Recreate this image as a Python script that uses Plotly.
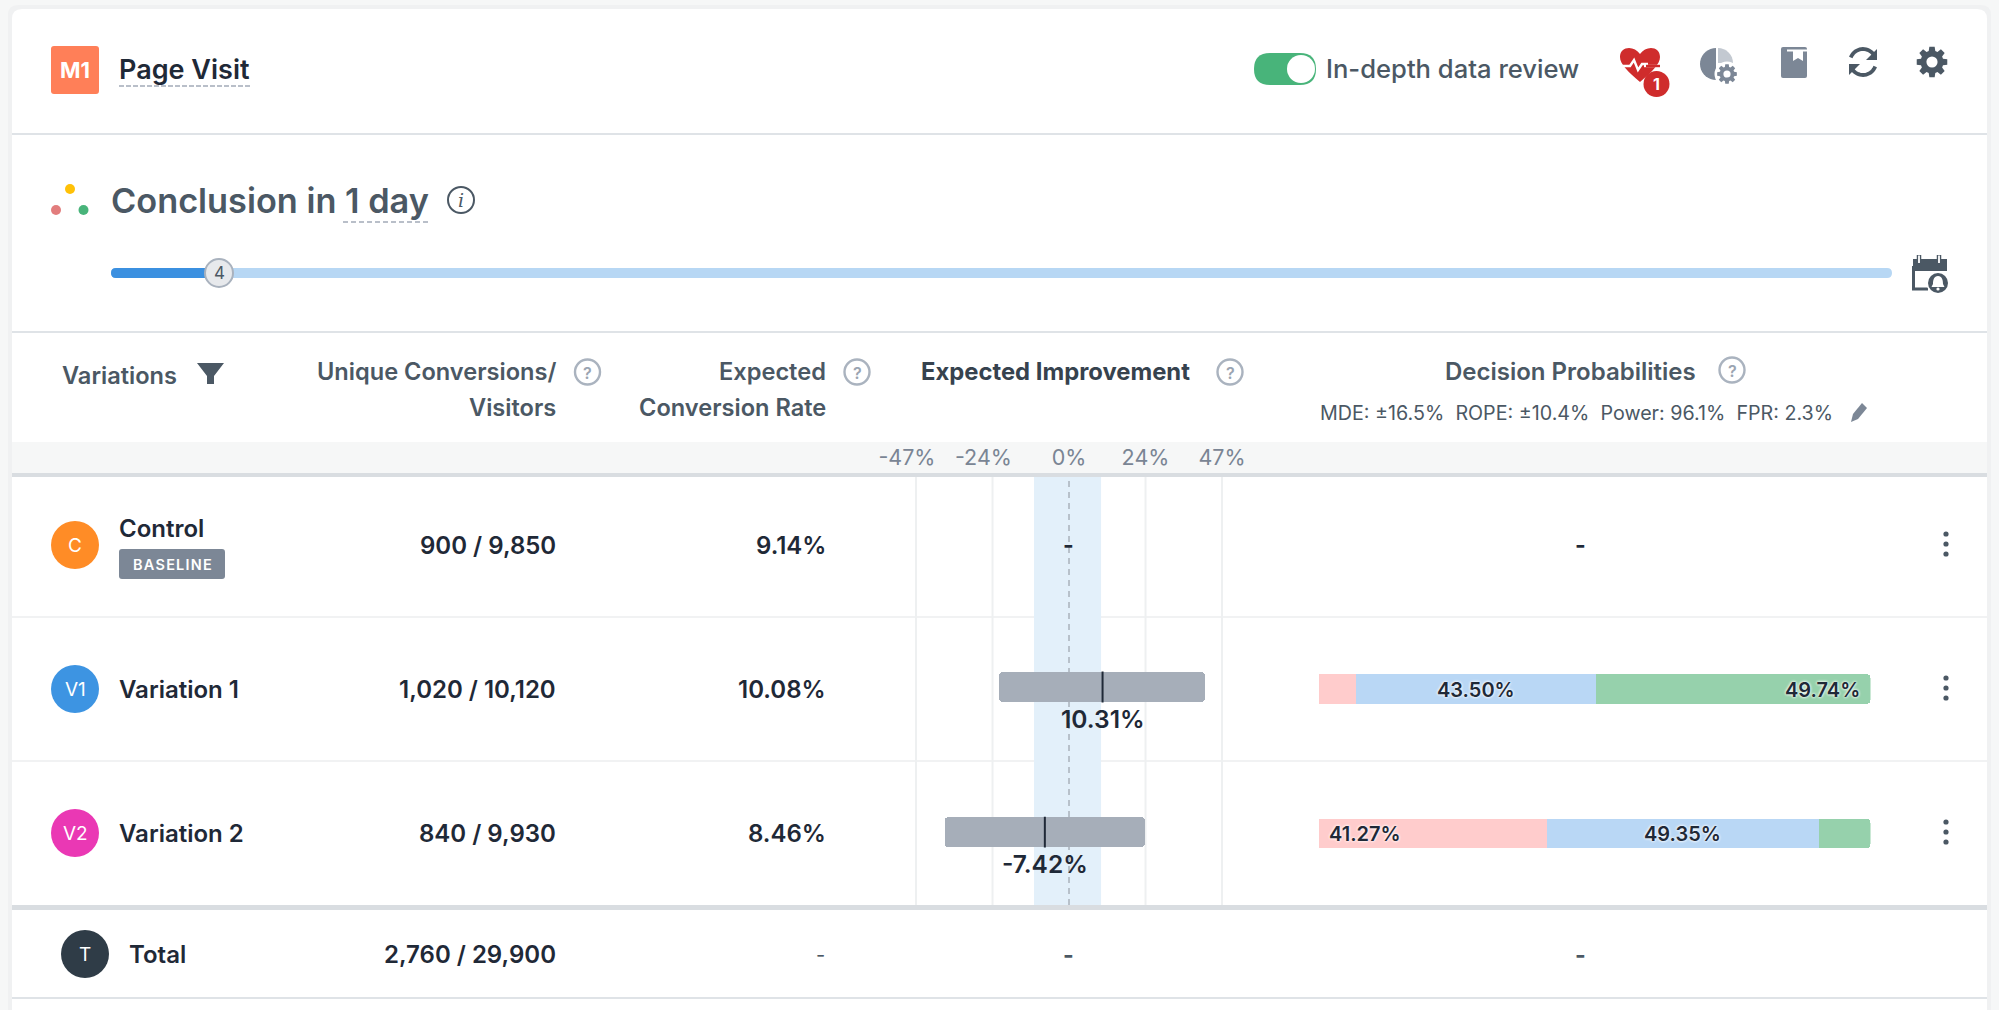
import math, re
import plotly.graph_objects as go

W, H = 1999, 1010

# ---- data ----
variations = ["Control", "Variation 1", "Variation 2"]
badges = ["C", "V1", "V2"]
badge_colors = ["#ff8c26", "#3d94e2", "#ea38b4"]
conversions = [900, 1020, 840]
visitors = [9850, 10120, 9930]
rates = ["9.14%", "10.08%", "8.46%"]
total_conversions = 2760
total_visitors = 29900

tick_values = [-47, -23.5, 0, 23.5, 47]
tick_labels = ["-47%", "-24%", "0%", "24%", "47%"]
band_low = -10.75
band_high = 9.85

imp_names = ["Variation 1", "Variation 2"]
imp_low = [-21.5, -38.2]
imp_high = [41.8, 23.3]
imp_mid = [10.31, -7.42]

prob_lose = [6.76, 41.27]
prob_rope = [43.50, 49.35]
prob_win = [49.74, 9.38]

# ---- pixel helpers for the page furniture ----
fx = lambda x: x / W
fy = lambda y: 1 - y / H
FONT = "Inter, 'Noto Sans', sans-serif"
DARK = "#1f2937"
SLATE = "#4b5864"
GREY = "#7c8796"
shapes, notes = [], []


def path(d, fill=None, line=None, lw=0, layer="below"):
    toks = re.findall(r"[MLQCZ]|-?\d+\.?\d*", d)
    out, i = [], True
    for t in toks:
        if t in "MLQCZ":
            out.append(t)
            i = True
        else:
            out.append(f"{fx(float(t)):.6f}" if i else f"{fy(float(t)):.6f}")
            i = not i
    s = dict(type="path", xref="paper", yref="paper", path=" ".join(out), layer=layer,
             line=dict(width=lw, color=line or "rgba(0,0,0,0)"))
    if fill:
        s["fillcolor"] = fill
    shapes.append(s)


def rect(x0, y0, x1, y1, fill, layer="below"):
    shapes.append(dict(type="rect", xref="paper", yref="paper", x0=fx(x0), x1=fx(x1), y0=fy(y0), y1=fy(y1),
                       fillcolor=fill, line=dict(width=0), layer=layer))


def rrect(x0, y0, x1, y1, r, fill, line=None, lw=0):
    path(f"M {x0+r} {y0} L {x1-r} {y0} Q {x1} {y0} {x1} {y0+r} L {x1} {y1-r} Q {x1} {y1} {x1-r} {y1} "
         f"L {x0+r} {y1} Q {x0} {y1} {x0} {y1-r} L {x0} {y0+r} Q {x0} {y0} {x0+r} {y0} Z", fill, line, lw)


def circ(cx, cy, r, fill=None, line=None, lw=0):
    s = dict(type="circle", xref="paper", yref="paper", x0=fx(cx - r), x1=fx(cx + r), y0=fy(cy + r), y1=fy(cy - r),
             line=dict(width=lw, color=line or "rgba(0,0,0,0)"), layer="below")
    if fill:
        s["fillcolor"] = fill
    shapes.append(s)


def hline(x0, x1, y, color, lw=1, dash=None):
    shapes.append(dict(type="line", xref="paper", yref="paper", x0=fx(x0), x1=fx(x1), y0=fy(y), y1=fy(y),
                       line=dict(color=color, width=lw, dash=dash or "solid"), layer="below"))


def text(x, y, s, size=22, color=DARK, weight=400, anchor="left", family=FONT, italic=False):
    notes.append(dict(xref="paper", yref="paper", x=fx(x), y=fy(y), text=s, showarrow=False, xanchor=anchor,
                      yanchor="middle", borderpad=0,
                      font=dict(family=family, size=size, color=color, weight=weight,
                                style="italic" if italic else "normal")))


def gear(cx, cy, R, fill, hole="#ffffff", teeth=8):
    r = R * 0.74
    pts = []
    for k in range(teeth):
        a = 2 * math.pi * k / teeth
        w = math.pi / teeth * 0.55
        for ang, rad in ((a - w * 1.35, r), (a - w * 0.8, R), (a + w * 0.8, R), (a + w * 1.35, r)):
            pts.append((cx + rad * math.cos(ang), cy + rad * math.sin(ang)))
    path("M " + " L ".join(f"{x:.2f} {y:.2f}" for x, y in pts) + " Z", fill)
    circ(cx, cy, R * 0.36, hole)


def help_icon(cx, cy):
    circ(cx, cy, 12.5, None, "#aab3bf", 2.4)
    text(cx, cy + 0.5, "?", 16, "#9aa4b1", 600, "center")


def arc_points(cx, cy, r, a0, a1, n=18):
    return [(cx + r * math.cos(math.radians(a0 + (a1 - a0) * i / n)),
             cy + r * math.sin(math.radians(a0 + (a1 - a0) * i / n))) for i in range(n + 1)]


# ---- card ----
path("M 8 1010 L 8 15 Q 8 5 18 5 L 1981 5 Q 1991 5 1991 15 L 1991 1010 Z", "#f0f1f2")
path("M 12 1010 L 12 19 Q 12 9 22 9 L 1977 9 Q 1987 9 1987 19 L 1987 1010 Z", "#ffffff")
hline(12, 1987, 134, "#dfe3e7", 2)
hline(12, 1987, 332, "#dfe3e7", 2)
rect(12, 442, 1987, 473, "#f6f7f7")
rect(12, 473, 1987, 477, "#d9dde1")
hline(12, 1987, 617, "#f1f2f3", 2)
hline(12, 1987, 761, "#f1f2f3", 2)
rect(12, 905, 1987, 910, "#d9dde1")
hline(12, 1987, 998, "#dfe3e7", 2)

# ---- header ----
rrect(51, 46, 99, 94, 3, "#ff7f58")
text(75, 70, "M1", 22, "#ffffff", 700, "center")
text(118, 69, "Page Visit", 27, DARK, 600)
hline(119, 251, 86, "#a3abb8", 1.6, "5px,2px")

rrect(1254, 53, 1316, 85, 16, "#48b47a")
circ(1301, 69, 14, "#ffffff")
text(1325, 68.5, "In-depth data review", 25.6, SLATE, 500)

# heart
path("M 1640 82 C 1628 72 1620 64 1620 57 C 1620 46 1634 45 1640 54 C 1646 45 1660 46 1660 57 C 1660 64 1652 72 1640 82 Z",
     "#cf2c2c")
path("M 1620 66 L 1630 66 L 1634 60 L 1638 70 L 1642 64 L 1648 64", None, "#ffffff", 2.4)
path("M 1644 66 L 1660 66", None, "#ffffff", 2.4)
path("M 1646 66 L 1660 66", None, "#cf2c2c", 2.4)
circ(1656.5, 84, 13, "#cf2c2c")
text(1656.5, 84.5, "1", 16, "#ffffff", 700, "center")
# report pie
pie = arc_points(1716, 64, 16, 90, 270)
path("M " + " L ".join(f"{x:.2f} {y:.2f}" for x, y in pie) + " Z", GREY)
quarter = arc_points(1718, 63, 15, 270, 360, 8)
path("M 1718 63 L " + " L ".join(f"{x:.2f} {y:.2f}" for x, y in quarter) + " Z", "#c3c9d1")
circ(1727, 74, 12.5, "#ffffff")
gear(1727, 74, 10, GREY)
# book
rrect(1781, 47, 1807, 78, 2, GREY)
rect(1787, 49.5, 1807, 51.5, "#ffffff")
path("M 1793 51 L 1803 51 L 1803 61 L 1798 58 L 1793 61 Z", "#ffffff")
# refresh
for a0, a1, tip in ((200, 325, (1877, 49)), (20, 145, (1849, 75))):
    pts = arc_points(1863, 62, 13, a0, a1)
    path("M " + " L ".join(f"{x:.2f} {y:.2f}" for x, y in pts), None, SLATE, 3.8)
    tx, ty = tip
    sgn = 1 if tx > 1863 else -1
    path(f"M {tx} {ty} L {tx} {ty + sgn*11} L {tx - sgn*11} {ty + sgn*11} Z", SLATE)
gear(1932, 62, 15.5, SLATE)

# ---- conclusion ----
circ(70, 189, 5, "#ffc107")
circ(56, 210, 5, "#e27d7d")
circ(83.5, 210, 5, "#48b47a")
text(109.5, 201, "Conclusion in 1 day", 34.3, SLATE, 600)
hline(343, 428, 222, "#a3abb8", 1.6, "5px,3px")
circ(461, 200, 13, None, SLATE, 2)
text(461, 200, "i", 19, SLATE, 400, "center", "'DejaVu Serif', serif", True)

rrect(111, 268, 1892, 278, 5, "#b7d7f4")
rrect(111, 268, 222, 278, 5, "#3b90e0")
circ(219, 273, 14, "#e7e9ec", "#a9b2be", 2)
text(219, 273, "4", 17, SLATE, 400, "center")

# calendar
path("M 1913.5 266 L 1913.5 289 L 1928 289", None, SLATE, 3)
path("M 1913 259 L 1947 259 L 1947 271 L 1913 271 Z", SLATE)
path("M 1919 255 L 1919 264 M 1939 255 L 1939 264", None, SLATE, 4.5)
path("M 1919 255.5 L 1919 263 M 1939 255.5 L 1939 263", None, "#ffffff", 1.8)
circ(1938, 283, 11.5, "#ffffff")
circ(1938, 283, 10, SLATE)
path("M 1938 276 C 1934 276 1933 280 1933 284 L 1931.5 287 L 1944.5 287 L 1943 284 C 1943 280 1942 276 1938 276 Z",
     "#ffffff")
circ(1938, 289, 1.6, "#ffffff")

# ---- column headings ----
HEAD = 23.6
text(60.5, 375, "Variations", HEAD, SLATE, 600)
path("M 197 363 L 224 363 L 214 376 L 214 384 L 207 384 L 207 376 Z", SLATE)
text(557, 371, "Unique Conversions/", HEAD, SLATE, 600, "right")
text(557, 407, "Visitors", HEAD, SLATE, 600, "right")
help_icon(587.5, 372)
text(826.5, 371, "Expected", HEAD, SLATE, 600, "right")
text(826.5, 407, "Conversion Rate", HEAD, SLATE, 600, "right")
help_icon(857, 372)
text(920, 371, "Expected Improvement", 23.8, "#36424e", 700)
help_icon(1230, 372)
text(1443.5, 371, "Decision Probabilities", 24, SLATE, 600)
help_icon(1732, 370)
text(1319, 413, "MDE: ±16.5%&nbsp;&nbsp;ROPE: ±10.4%&nbsp;&nbsp;Power: 96.1%&nbsp;&nbsp;FPR: 2.3%", 19.7, SLATE, 400)
path("M 1851 422 L 1853 414 L 1862 403 L 1867 408 L 1858 419 Z", GREY)

# ---- table rows ----
CELL = 24
row_y = [545, 689, 833]
for i, name in enumerate(variations):
    y = row_y[i]
    circ(75, y, 24, badge_colors[i])
    text(75, y, badges[i], 19, "#ffffff", 400, "center")
    text(117.5, 528 if i == 0 else y, name, CELL, DARK, 600)
    text(557, y, f"{conversions[i]:,} / {visitors[i]:,}", CELL, DARK, 600, "right")
    text(827, y, rates[i], CELL, DARK, 600, "right")
    for dy in (-10, 0, 10):
        circ(1946, y - 1 + dy, 2.6, SLATE)
rrect(119, 549, 225, 579, 3, GREY)
text(172, 564, "B A S E L I N E".replace(" ", "\u200a"), 14.5, "#ffffff", 600, "center")
text(1068, 545, "-", 23, DARK, 700, "center")
text(1580, 545, "-", 23, DARK, 700, "center")

circ(85, 954, 24, "#2f3c47")
text(85, 954, "T", 19, "#ffffff", 400, "center")
text(127.5, 954, "Total", CELL, DARK, 600)
text(557, 954, f"{total_conversions:,} / {total_visitors:,}", CELL, DARK, 600, "right")
text(826, 955, "-", 20, SLATE, 400, "right")
text(1068, 955, "-", 23, SLATE, 700, "center")
text(1580, 955, "-", 23, SLATE, 700, "center")

# ---- data marks ----
TABLE_TOP, TABLE_BOTTOM = 477, 905
dom_y = [1 - TABLE_BOTTOM / H, 1 - TABLE_TOP / H]
fig = go.Figure()

fig.add_bar(y=imp_names, x=[h - l for h, l in zip(imp_high, imp_low)], base=imp_low, orientation="h", width=0.207,
            marker=dict(color="#a6aeb9", line=dict(width=0), cornerradius=4), xaxis="x", yaxis="y", showlegend=False)
fig.add_scatter(y=imp_names, x=imp_mid, mode="markers", xaxis="x", yaxis="y", showlegend=False,
                marker=dict(symbol="line-ns", size=22, line=dict(width=2, color=DARK), color=DARK))
for series, color in ((prob_lose, "#ffcccc"), (prob_rope, "#b9d7f5"), (prob_win, "#96d1ac")):
    fig.add_bar(y=imp_names, x=series, orientation="h", width=0.205,
                marker=dict(color=color, line=dict(width=0), cornerradius=4),
                xaxis="x2", yaxis="y2", showlegend=False)

# band, zero line and gridlines of the improvement axis
shapes.append(dict(type="rect", xref="x", yref="paper", x0=band_low, x1=band_high, y0=dom_y[0], y1=dom_y[1],
                   fillcolor="#e3f0fa", line=dict(width=0), layer="below"))
for t in tick_values:
    if t == 0:
        shapes.append(dict(type="line", xref="x", yref="paper", x0=t, x1=t, y0=dom_y[0], y1=dom_y[1],
                           line=dict(color="#a9b1bb", width=1.5, dash="6px,5px"), layer="below"))
    else:
        shapes.append(dict(type="line", xref="x", yref="paper", x0=t, x1=t, y0=dom_y[0], y1=dom_y[1],
                           line=dict(color="#eef0f1", width=2), layer="below"))

# improvement labels under the intervals
for n, v in zip(imp_names, imp_mid):
    notes.append(dict(xref="x", yref="y", x=v, y=n, yshift=-32, text=f"{v:.2f}%", showarrow=False, borderpad=0,
                      font=dict(family=FONT, size=24.5, color=DARK, weight=600)))

# probability labels inside the segments
halo = "0 0 3px #ffffff, 0 0 3px #ffffff"
for k, n in enumerate(imp_names):
    lose, rope, win = prob_lose[k], prob_rope[k], prob_win[k]
    pf = dict(family=FONT, size=20, color=DARK, weight=600, shadow=halo)
    if lose >= 20:
        notes.append(dict(xref="x2", yref="y2", x=0, y=n, xanchor="left", xshift=8.5, yshift=-1, text=f"{lose:.2f}%",
                          showarrow=False, borderpad=0, font=pf))
    notes.append(dict(xref="x2", yref="y2", x=lose + rope / 2, y=n, yshift=-1, text=f"{rope:.2f}%", showarrow=False,
                      borderpad=0, font=pf))
    if win >= 20:
        notes.append(dict(xref="x2", yref="y2", x=100, y=n, xanchor="right", xshift=-9.5, yshift=-1, text=f"{win:.2f}%",
                          showarrow=False, borderpad=0, font=pf))

PAD = "\u00a0" * 3
# improvement axis: -47 sits at 916 px and +47 at 1222 px
PX_PER_PCT = (1222 - 916) / 94
SLACK = 3
fig.update_layout(
    width=W, height=H, autosize=False, margin=dict(l=0, r=0, t=0, b=0, pad=0), template=None,
    paper_bgcolor="#f6f7f7", plot_bgcolor="rgba(0,0,0,0)",
    barmode="stack", showlegend=False,
    font=dict(family=FONT), shapes=shapes, annotations=notes,
    xaxis=dict(domain=[fx(916 - SLACK * PX_PER_PCT), fx(1222 + SLACK * PX_PER_PCT)], range=[-47 - SLACK, 47 + SLACK],
               anchor="y", side="top", tickmode="array", tickvals=tick_values, tickangle=0,
               ticktext=[t + PAD if t.startswith("-") else t for t in tick_labels],
               tickfont=dict(family=FONT, size=21.5, color="#7a8594"), ticklen=0, ticklabelstandoff=7,
               showgrid=False, zeroline=False, showline=False, fixedrange=True, automargin=False),
    yaxis=dict(domain=dom_y, anchor="x", type="category", categoryorder="array", categoryarray=variations,
               range=[2.503, -0.448], visible=False, fixedrange=True, automargin=False),
    xaxis2=dict(domain=[fx(1319), fx(1870.5)], range=[0, 100], anchor="y2", visible=False, fixedrange=True,
                automargin=False),
    yaxis2=dict(domain=dom_y, anchor="x2", type="category", categoryorder="array", categoryarray=variations,
                range=[2.495, -0.467], visible=False, fixedrange=True, automargin=False),
)

fig.write_html("out.html", config=dict(displayModeBar=False),
               post_script="document.body.style.margin='0';document.body.style.overflow='hidden';")
